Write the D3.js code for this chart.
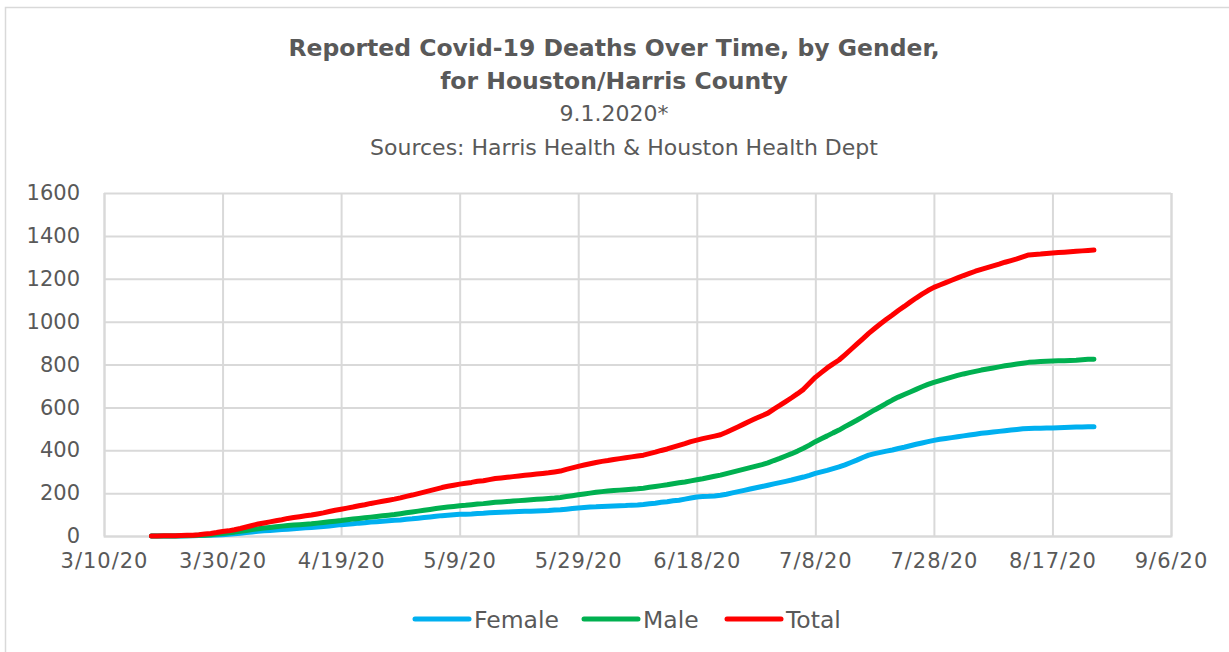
<!DOCTYPE html>
<html>
<head>
<meta charset="utf-8">
<script src="https://cdn.jsdelivr.net/npm/d3@7"></script>
<style>
  body { margin: 0; background: #fff; }
  text { font-family: "DejaVu Sans", sans-serif; fill: #595959; }
</style>
</head>
<body>
<svg id="chart" width="1229" height="652"></svg>
<script>
// daily values, first point is 3/18/20
const startDate = new Date(2020, 2, 18);

const female = [
  0,0,0,0,0,0,1,1,2,3,4,5,6,
  8,10,13,16,19,22,
  24,26,28,30,32,
  34,36,38,40,42,44,47,50,53,
  55,57,60,62,65,
  67,69,71,73,75,78,
  80,83,86,89,92,95,
  97,99,101,
  102,103,105,106,108,110,
  111,112,113,114,115,
  116,117,118,119,121,122,
  125,128,131,
  133,135,136,138,139,
  140,141,142,144,145,147,
  150,153,157,160,164,167,
  172,177,182,
  184,185,187,190,
  195,201,207,213,219,225,231,237,
  243,249,255,261,268,275,283,292,
  299,306,314,322,
  332,343,354,366,377,
  384,390,396,401,
  408,414,421,428,434,440,446,
  451,455,459,463,467,471,475,479,
  482,485,488,491,494,497,500,502,
  503,503,504,504,
  505,506,507,508,509,510,510
];

const male = [
  0,0,0,0,0,1,1,2,3,4,6,9,12,
  15,18,22,26,30,34,
  37,40,43,46,49,
  51,53,55,57,60,63,66,69,72,
  76,79,82,85,88,
  91,94,97,100,104,108,
  112,116,120,124,128,132,
  135,138,141,
  143,146,149,151,154,157,
  159,161,163,165,167,
  169,171,173,175,177,180,
  184,188,192,
  196,200,204,207,210,
  212,214,216,218,220,223,
  227,231,235,239,244,248,
  252,257,262,
  267,273,279,284,
  291,298,305,312,319,326,333,341,
  352,362,373,384,396,409,424,440,
  454,467,481,494,
  510,525,540,556,572,
  588,603,619,634,
  648,660,672,684,696,707,717,
  725,733,741,749,756,762,768,774,
  779,784,789,794,798,802,806,810,
  812,814,815,816,
  817,818,819,820,822,824,825
];

const total = [
  0,0,1,1,1,2,3,4,6,9,12,16,21,
  24,29,35,42,49,56,
  61,66,71,76,82,
  86,90,94,98,103,108,114,120,125,
  130,135,141,146,152,
  157,162,167,172,178,185,
  191,198,205,212,219,226,
  232,237,242,
  246,250,255,258,263,268,
  271,274,277,280,283,
  286,289,292,295,299,303,
  311,318,325,
  331,337,343,348,352,
  357,361,365,369,373,377,
  384,391,399,406,415,423,
  431,440,447,
  454,460,466,472,
  484,497,510,523,536,549,561,573,
  592,609,627,645,664,684,712,740,
  762,784,803,821,
  845,870,895,920,945,
  968,990,1011,1031,
  1052,1071,1091,1110,1128,1145,1160,
  1171,1182,1193,1204,1215,1225,1235,1244,
  1252,1260,1268,1277,1285,1293,1302,1311,
  1313,1315,1318,1320,
  1322,1324,1326,1328,1330,1332,1334
];

const seriesNames = ["Female", "Male", "Total"];
const seriesColors = ["#00b0f0", "#00b050", "#ff0000"];
const yTicks = [0, 200, 400, 600, 800, 1000, 1200, 1400, 1600];
const xStart = new Date(2020, 2, 10);
const xEnd = new Date(2020, 8, 6);

const svg = d3.select("#chart");
const W = 1229, H = 652;
const margin = { left: 104, right: W - 1171, top: 193, bottom: H - 536 };

// outer chart border
svg.append("rect")
  .attr("x", 5.5).attr("y", 7.5)
  .attr("width", W + 20).attr("height", H + 20)
  .attr("fill", "none").attr("stroke", "#d9d9d9").attr("stroke-width", 1.5);

// titles
svg.append("text").attr("x", 614).attr("y", 56).attr("text-anchor", "middle")
  .attr("font-size", 23.5).attr("font-weight", "bold")
  .text("Reported Covid-19 Deaths Over Time, by Gender,");
svg.append("text").attr("x", 614).attr("y", 89).attr("text-anchor", "middle")
  .attr("font-size", 23.5).attr("font-weight", "bold")
  .text("for Houston/Harris County");
svg.append("text").attr("x", 614).attr("y", 121).attr("text-anchor", "middle")
  .attr("font-size", 22)
  .text("9.1.2020*");
svg.append("text").attr("x", 624).attr("y", 155).attr("text-anchor", "middle")
  .attr("font-size", 22)
  .text("Sources: Harris Health & Houston Health Dept");

const x = d3.scaleTime().domain([xStart, xEnd]).range([margin.left, W - margin.right]);
const y = d3.scaleLinear().domain([0, 1600]).range([H - margin.bottom, margin.top]);

const xTicks = d3.range(0, 10).map(i => d3.timeDay.offset(xStart, i * 20));
const fmt = d3.timeFormat("%-m/%-d/%y");

// horizontal gridlines + y labels
const yAxis = svg.append("g")
  .attr("transform", `translate(${margin.left},0)`)
  .call(d3.axisLeft(y).tickValues(yTicks).tickFormat(d3.format("d"))
    .tickSize(-(W - margin.left - margin.right)).tickPadding(24));
yAxis.select(".domain").remove();
yAxis.selectAll("line").attr("stroke", "#d9d9d9").attr("stroke-width", 2);
yAxis.selectAll("text").attr("font-size", 21).attr("fill", "#595959")
  .style("font-family", "'DejaVu Sans', sans-serif");

// vertical gridlines + x labels
const xAxis = svg.append("g")
  .attr("transform", `translate(0,${H - margin.bottom})`)
  .call(d3.axisBottom(x).tickValues(xTicks).tickFormat(fmt)
    .tickSize(-(H - margin.top - margin.bottom)).tickPadding(17));
xAxis.select(".domain").attr("stroke", "#d9d9d9").attr("stroke-width", 2);
xAxis.selectAll("line").attr("stroke", "#d9d9d9").attr("stroke-width", 2);
xAxis.selectAll("text").attr("font-size", 21).attr("fill", "#595959")
  .attr("letter-spacing", 1)
  .style("font-family", "'DejaVu Sans', sans-serif");

// lines
const allSeries = [female, male, total];
const line = d3.line()
  .x((d, i) => x(d3.timeDay.offset(startDate, i)))
  .y(d => y(d));

svg.append("g").selectAll("path")
  .data(allSeries)
  .enter().append("path")
    .attr("d", d => line(d))
    .attr("fill", "none")
    .attr("stroke", (d, i) => seriesColors[i])
    .attr("stroke-width", 5)
    .attr("stroke-linecap", "round")
    .attr("stroke-linejoin", "round");

// legend
const legendX = [415, 584, 727];
const leg = svg.append("g").selectAll("g")
  .data(seriesNames)
  .enter().append("g")
    .attr("transform", (d, i) => `translate(${legendX[i]},619)`);
leg.append("line")
  .attr("x1", 0).attr("x2", 54).attr("y1", 0).attr("y2", 0)
  .attr("stroke", (d, i) => seriesColors[i])
  .attr("stroke-width", 5).attr("stroke-linecap", "round");
leg.append("text")
  .attr("x", 59).attr("y", 8.5)
  .attr("font-size", 23.5)
  .text(d => d);
</script>
</body>
</html>
